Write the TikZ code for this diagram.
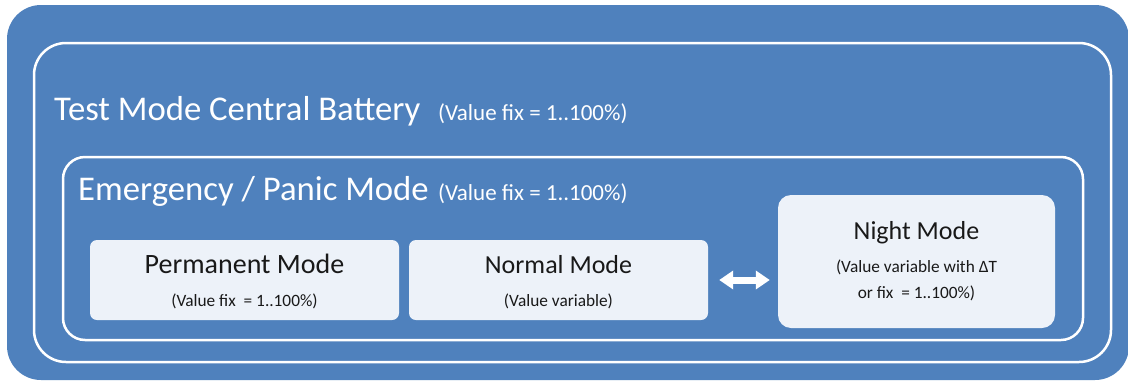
\documentclass[tikz,border=0pt]{standalone}
\usepackage{fontspec}
\setmainfont{Carlito}
\usetikzlibrary{arrows.meta}
\definecolor{panelblue}{RGB}{79,129,189}
\definecolor{boxfill}{RGB}{237,242,249}
\definecolor{boxtext}{RGB}{25,25,25}

\begin{document}
\begin{tikzpicture}[x=1pt,y=-1pt,
  frame/.style={draw=white,line width=2.5pt,inner sep=0pt},
  modebox/.style={fill=boxfill,rounded corners=7pt,inner sep=0pt},
  title/.style={text=white,font=\fontsize{34.7}{40}\selectfont,anchor=base west,inner sep=0pt},
  note/.style={text=white,font=\fontsize{23}{27}\selectfont,anchor=base west,inner sep=0pt},
  modename/.style={text=boxtext,font=\fontsize{26}{30}\selectfont,anchor=base,inner sep=0pt},
  modeinfo/.style={text=boxtext,font=\fontsize{17.3}{20}\selectfont,anchor=base,inner sep=0pt}]
\useasboundingbox (0,0) rectangle (1128,381);
\fill[white] (0,0) rectangle (1128,381);
% frames
\node[fill=panelblue,rounded corners=34pt,minimum width=1122pt,minimum height=375pt,inner sep=0pt] (panel) at (568,192.5) {};
\node[frame,rounded corners=32pt,minimum width=1077pt,minimum height=319pt] (testmode) at (572.5,202.5) {};
\node[frame,rounded corners=22pt,minimum width=1020pt,minimum height=183pt] (emergency) at (573,248.5) {};
% mode boxes
\node[modebox,minimum width=309pt,minimum height=80pt] (permanent) at (244.5,280) {};
\node[modebox,minimum width=299pt,minimum height=80pt] (normal) at (558.5,280) {};
\node[modebox,rounded corners=13pt,minimum width=277pt,minimum height=133pt] (night) at (916.5,261.5) {};
% texts
\node[title] (testtitle) at (54,120) {Test Mode Central Battery};
\node[note] (testvalue) at (438,120) {(Value fix = 1..100\%)};
\node[title] (emergencytitle) at (78,200) {Emergency / Panic Mode};
\node[note] (emergencyvalue) at (438,200) {(Value fix = 1..100\%)};
\node[modename,font=\fontsize{28}{32}\selectfont] (permanentname) at (244.5,273) {Permanent Mode};
\node[modeinfo] (permanentinfo) at (244.5,306) {(Value fix\ \ = 1..100\%)};
\node[modename] (normalname) at (558.5,273) {Normal Mode};
\node[modeinfo] (normalinfo) at (558.5,306) {(Value variable)};
\node[modename] (nightname) at (916.5,239) {Night Mode};
\node[modeinfo] (nightinfo) at (916.5,272) {(Value variable with ΔT};
\node[modeinfo] (nightfix) at (916.5,298) {or fix\ \ = 1..100\%)};
% switch
\draw[white,line width=7pt,{Triangle[length=14pt,width=18pt]}-{Triangle[length=14pt,width=18pt]},shorten <=11pt,shorten >=8pt] (normal.east) -- (normal.east -| night.west);
\end{tikzpicture}
\end{document}
